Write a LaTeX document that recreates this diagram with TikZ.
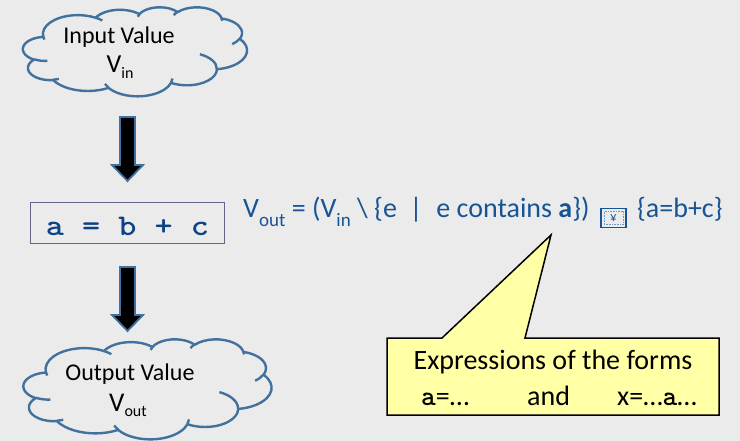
\documentclass[tikz,border=0pt]{standalone}
\usepackage{fontspec}
\setmainfont{Carlito}
\newfontfamily\codefont{lmmonolt10-bold.otf}
\definecolor{bg}{RGB}{235,235,235}
\definecolor{cloudblue}{RGB}{65,113,156}
\definecolor{formblue}{RGB}{22,84,150}
\definecolor{codeblue}{RGB}{14,66,135}
\definecolor{boxline}{RGB}{110,95,135}
\definecolor{noteyellow}{RGB}{255,255,166}
% OOXML-style elliptic arc: x radius, y radius, start angle (ray), sweep
\newcommand{\ooarc}[4]{arc[start angle={atan2((#1)*sin(#3),(#2)*cos(#3))}, delta angle={mod(atan2((#1)*sin((#3)+(#4)),(#2)*cos((#3)+(#4)))-atan2((#1)*sin(#3),(#2)*cos(#3))+720,360)}, x radius=#1, y radius=#2]}
\newcommand{\ppcloud}{%
  \draw[cloudline, fill=bg] (9.0278,33.264)
    \ooarc{15.632}{21.273}{-190.4875}{123.7805}
    \ooarc{12.345}{16.822}{-144.1024}{89.9452}
    \ooarc{10.104}{13.762}{-145.8079}{99.7230}
    \ooarc{11.243}{15.266}{-130.9861}{117.2417}
    \ooarc{12.345}{16.836}{-78.7089}{109.0269}
    \ooarc{15.683}{21.343}{-46.2673}{130.2690}
    \ooarc{13.391}{18.211}{0.6250}{114.0333}
    \ooarc{15.630}{21.331}{22.4516}{115.1726}
    \ooarc{17.870}{24.405}{66.2426}{75.7110}
    \ooarc{10.093}{13.699}{-274.9421}{146.7356}
    \ooarc{10.058}{13.762}{-246.8285}{152.5189} -- cycle;
  \draw[cloudline]
    (10.863,60.595) \ooarc{10.058}{13.762}{86.7420}{26.4295}
    (16.037,80.785) \ooarc{10.093}{13.699}{73.6105}{11.4475}
    (38.144,90.486) \ooarc{15.630}{21.331}{137.6242}{14.0811}
    (66.729,80.442) \ooarc{15.630}{21.331}{6.4533}{15.9984}
    (79.002,53.134) \ooarc{13.391}{18.211}{-70.2924}{70.9174}
    (96.755,35.542) \ooarc{12.345}{16.836}{30.3180}{27.7515}
    (88.713,12.560) \ooarc{11.243}{15.266}{-13.7443}{14.8589}
    (67.310,9.148) \ooarc{11.243}{15.266}{-149.1815}{18.1954}
    (51.252,10.926) \ooarc{10.104}{13.762}{-163.4943}{17.6864}
    (32.407,12.019) \ooarc{15.632}{21.273}{-66.7070}{12.3194}
    (9.553,36.549) \ooarc{15.632}{21.273}{157.6544}{11.8582};
}
\tikzset{
  cloudline/.style={draw=cloudblue, line width=2.4pt, line join=round},
  cloudtext/.style={font=\fontsize{24}{24}\selectfont, text=black, anchor=base, inner sep=0pt},
  blockarrow/.style={draw=cloudblue, fill=black, line width=1.8pt, line join=miter},
  codebox/.style={draw=boxline, line width=1pt, minimum width=194pt, minimum height=41pt, inner sep=0pt},
  formula/.style={text=formblue, font=\fontsize{28}{28}\selectfont, anchor=base west, inner sep=0pt},
  notetext/.style={font=\fontsize{28}{28}\selectfont, text=black, inner sep=0pt},
  note/.style={draw=black, line width=1.5pt, fill=noteyellow, line join=miter}
}
\begin{document}
\begin{tikzpicture}[x=1pt,y=-1pt]
\fill[bg] (0,0) rectangle (740,441);
\useasboundingbox (0,0) rectangle (740,441);
% clouds
\begin{scope}[shift={(23,7)}, x=2.24pt, y=-0.89pt]
  \ppcloud
\end{scope}
\begin{scope}[shift={(23.5,339)}, x=2.48pt, y=-1.0pt]
  \ppcloud
\end{scope}
\node[cloudtext] (intext1) at (119,44) {Input Value};
\node[cloudtext] (intext2) at (120,72.5) {\fontsize{26}{26}\selectfont V\raisebox{-6pt}{\fontsize{16}{16}\selectfont in}};
\node[cloudtext] (outtext1) at (130,380) {Output Value};
\node[cloudtext] (outtext2) at (128,411) {\fontsize{27}{27}\selectfont V\raisebox{-5pt}{\fontsize{16}{16}\selectfont out}};
% code box
\node[codebox] (stmt) at (127,223.5) {};
\node[font=\fontsize{30}{30}\codefont, text=codeblue, anchor=base, inner sep=0pt] (code) at (127.5,236) {\scalebox{1.15}[1]{a = b + c}};
% block arrows
\draw[blockarrow] (120,117) -- (135,117) -- (135,165) -- (143,165) -- (127.5,181) -- (112,165) -- (120,165) -- cycle;
\draw[blockarrow] (120,267) -- (135,267) -- (135,315) -- (143,315) -- (127.5,331) -- (112,315) -- (120,315) -- cycle;
% formula
\node[formula] (form1) at (243,218) {V\raisebox{-9pt}{\fontsize{19}{19}\selectfont out} = (V\raisebox{-9pt}{\fontsize{19}{19}\selectfont in} \textbackslash{} \{e\hspace{0.45em}|\hspace{0.5em}e contains \textbf{a}\})};
\node[draw=formblue, line width=1.8pt, minimum width=25pt, minimum height=19pt, inner sep=0pt] (gbox) at (613.5,218) {};
\node[draw=formblue!60, line width=0.6pt, densely dotted, minimum width=19pt, minimum height=13pt, inner sep=0pt, text=formblue, font=\fontsize{13}{13}\selectfont] (gsym) at (gbox.center) {¥};
\node[formula] (form2) at (637,218) {\{a=b+c\}};
% callout
\coordinate (tip) at (551,235);
\draw[note] (387,338) -- (442,338) -- (tip) -- (525,338) -- (719,338) -- (719,415) -- (387,415) -- cycle;
\node[notetext, anchor=base] (l1) at (553,370) {Expressions of the forms};
\node[notetext, anchor=base west] (l2a) at (421,405) {{\codefont a}=…};
\node[notetext, anchor=base west] (l2b) at (527,405) {and};
\node[notetext, anchor=base west] (l2c) at (617,405) {x=…{\codefont a}…};
\end{tikzpicture}
\end{document}
